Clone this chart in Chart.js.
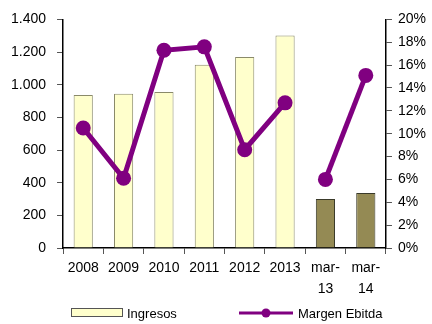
<!DOCTYPE html>
<html>
<head>
<meta charset="utf-8">
<script src="https://cdn.jsdelivr.net/npm/chart.js@4"></script>
<style>
  html, body { margin: 0; padding: 0; background: #fff; }
  #wrap { width: 432px; height: 324px; }
</style>
</head>
<body>
<div id="wrap"><canvas id="grafico" width="432" height="324"></canvas></div>
<script>
// datos
const categorias = [['2008'], ['2009'], ['2010'], ['2011'], ['2012'], ['2013'], ['mar-', '13'], ['mar-', '14']];
const ingresos = [937, 945, 955, 1122, 1170, 1302, 300, 337];
const margenEbitda = [10.5, 6.1, 17.3, 17.6, 8.6, 12.7, 6.0, 15.1];
// el margen no se une entre 2013 y mar-13
const tramoAnual = [true, true, true, true, true, true, false, false];
const ticksIzq = [0, 200, 400, 600, 800, 1000, 1200, 1400];
const ticksDer = [0, 2, 4, 6, 8, 10, 12, 14, 16, 18, 20];

const amarillo = '#FFFFCC';
const oliva = '#948A54';
const morado = '#800080';
const familia = "'Liberation Sans', Arial, sans-serif";

const coloresBarra = ingresos.map((v, i) => (i < 6 ? amarillo : oliva));
const bordesBarra = ingresos.map((v, i) => (i < 6 ? '#8a8a6a' : '#3a3a2a'));

// leyenda dibujada a mano abajo (caja + linea con punto)
const leyendaAbajo = {
  id: 'leyendaAbajo',
  afterDraw(chart) {
    const g = chart.ctx;
    const y = chart.height - 11;
    g.save();
    g.fillStyle = amarillo;
    g.fillRect(71, y - 4, 51, 8);
    g.strokeStyle = '#555';
    g.lineWidth = 1;
    g.strokeRect(71.5, y - 4.5, 51, 8);

    g.strokeStyle = morado;
    g.lineWidth = 3;
    g.beginPath();
    g.moveTo(239, y); g.lineTo(293, y);
    g.stroke();
    g.fillStyle = morado;
    g.beginPath();
    g.arc(266, y, 4.5, 0, Math.PI * 2);
    g.fill();

    g.fillStyle = '#000';
    g.font = '13px ' + familia;
    g.textBaseline = 'middle';
    g.fillText('Ingresos', 127, y + 1);
    g.fillText('Margen Ebitda', 298, y + 1);
    g.restore();
  },
};

const ctx = document.getElementById('grafico').getContext('2d');
new Chart(ctx, {
  data: {
    labels: categorias,
    datasets: [
      {
        type: 'line',
        label: 'Margen Ebitda',
        data: margenEbitda,
        yAxisID: 'y1',
        borderColor: morado,
        backgroundColor: morado,
        borderWidth: 5,
        pointRadius: 7.5,
        pointHoverRadius: 7.5,
        pointBackgroundColor: morado,
        pointBorderWidth: 0,
        tension: 0,
        segment: {
          borderColor: (s) => (tramoAnual[s.p0DataIndex] === tramoAnual[s.p1DataIndex] ? morado : 'rgba(0,0,0,0)'),
        },
        order: 0,
      },
      {
        type: 'bar',
        label: 'Ingresos',
        data: ingresos,
        yAxisID: 'y',
        backgroundColor: coloresBarra,
        borderColor: bordesBarra,
        borderWidth: 1,
        barPercentage: 0.5,
        categoryPercentage: 0.95,
        order: 1,
      },
    ],
  },
  options: {
    responsive: false,
    animation: false,
    layout: { autoPadding: false, padding: { left: 0, right: 0, top: 2, bottom: 20 } },
    plugins: {
      tooltip: { enabled: false },
      legend: { display: false },
    },
    scales: {
      x: {
        offset: true,
        grid: { display: true, drawOnChartArea: false, offset: true, tickLength: 6, color: '#555' },
        border: { color: '#000', width: 1.5 },
        ticks: { font: { family: familia, size: 14, lineHeight: 1.5 }, color: '#000', padding: 4, maxRotation: 0 },
      },
      y: {
        position: 'left',
        min: 0,
        max: 1400,
        afterBuildTicks: (ax) => { ax.ticks = ticksIzq.map((v) => ({ value: v })); },
        grid: { drawOnChartArea: false, tickLength: 6, color: '#555' },
        border: { color: '#000', width: 1.5 },
        ticks: {
          font: { family: familia, size: 14 },
          color: '#000',
          padding: 11,
          callback: (v) => String(v).replace(/^(\d)(\d{3})$/, '$1.$2'),
        },
      },
      y1: {
        position: 'right',
        min: 0,
        max: 20,
        afterBuildTicks: (ax) => { ax.ticks = ticksDer.map((v) => ({ value: v })); },
        grid: { drawOnChartArea: false, tickLength: 6, color: '#555' },
        border: { color: '#000', width: 1.5 },
        ticks: { font: { family: familia, size: 14 }, color: '#000', padding: 6, callback: (v) => v + '%' },
      },
    },
  },
  plugins: [leyendaAbajo],
});
</script>
</body>
</html>
